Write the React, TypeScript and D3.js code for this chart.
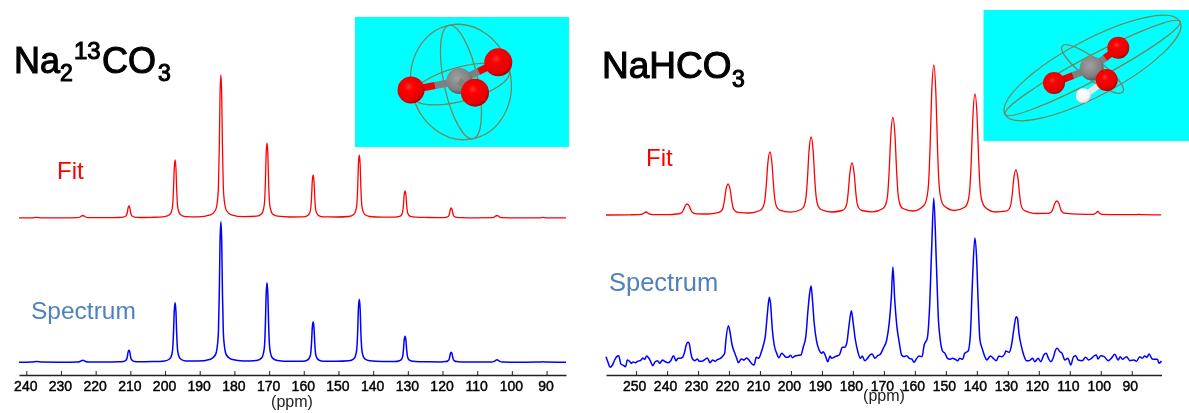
import React, { useEffect, useRef } from "react";
import * as d3 from "d3";

const FONT = "'Liberation Sans', Arial, sans-serif";

// ---------- Na2 13CO3 panel ----------
const carbonateTicks = d3.range(240, 80, -10);
const carbonatePpm = [
  242.1, 238.5, 237, 235.5, 230.4,
  225.2, 224.5, 223.7, 222.9, 222.2, 217,
  213.4, 212, 211.4, 211.1, 210.85, 210.65, 210.4, 210.15, 209.95, 209.7, 209.4, 208.8, 207.4, 203.75,
  200.1, 198.7, 198.1, 197.8, 197.55, 197.35, 197.1, 196.85, 196.65, 196.4, 196.1, 195.5, 194.1, 190.5,
  186.9, 185.5, 184.9, 184.6, 184.35, 184.15, 183.9, 183.65, 183.45, 183.2, 182.9, 182.3, 180.9, 177.25,
  173.6, 172.2, 171.6, 171.3, 171.05, 170.85, 170.6, 170.35, 170.15, 169.9, 169.6, 169, 167.6, 163.95,
  160.3, 158.9, 158.3, 158, 157.75, 157.55, 157.3, 157.05, 156.85, 156.6, 156.3, 155.7, 154.3, 150.65,
  147, 145.6, 145, 144.7, 144.45, 144.25, 144, 143.75, 143.55, 143.3, 143, 142.4, 141, 137.4,
  133.8, 132.4, 131.8, 131.5, 131.25, 131.05, 130.8, 130.55, 130.35, 130.1, 129.8, 129.2, 127.8, 124.15,
  120.5, 119.1, 118.5, 118.2, 117.95, 117.75, 117.5, 117.25, 117.05, 116.8, 116.5, 115.9, 114.5, 110.9,
  105.8, 105.1, 104.3, 103.5, 102.8, 97.6,
  92, 91, 90, 84.4,
];
const carbonateFit = [
  0.1, 0.2, 0.7, 0.2, 0.1,
  0.4, 1, 2.5, 1, 0.4, 0.3,
  0.5, 0.9, 1.7, 2.9, 6, 10.2, 12, 10.2, 6, 2.9, 1.7, 0.9, 0.5, 0.7,
  1.4, 3.2, 7, 12.8, 29, 49.3, 58, 49.3, 29, 12.8, 7, 3.2, 1.4, 1.2,
  3.2, 7.5, 17, 31.5, 71.5, 121.5, 143, 121.5, 71.5, 31.5, 17, 7.5, 3.2, 1.3,
  1.8, 4, 9, 16.5, 37.5, 63.8, 75, 63.8, 37.5, 16.5, 9, 4, 1.8, 1,
  1.1, 2.4, 5.2, 9.5, 21.5, 36.6, 43, 36.6, 21.5, 9.5, 5.2, 2.4, 1.1, 1,
  1.5, 3.4, 7.6, 13.9, 31.5, 53.6, 63, 53.6, 31.5, 13.9, 7.6, 3.4, 1.5, 0.8,
  0.8, 1.6, 3.2, 5.9, 13.5, 23, 27, 23, 13.5, 5.9, 3.2, 1.6, 0.8, 0.5,
  0.4, 0.7, 1.3, 2.3, 5, 8.5, 10, 8.5, 5, 2.3, 1.3, 0.7, 0.4, 0.2,
  0.3, 0.9, 2.5, 0.9, 0.3, 0.1,
  0.2, 0.7, 0.2, 0.1,
];
const carbonateSpectrum = [
  0.1, 0.2, 0.7, 0.2, 0.1,
  0.3, 0.8, 2, 0.8, 0.3, 0.3,
  0.5, 0.9, 1.7, 2.9, 6, 10.2, 12, 10.2, 6, 2.9, 1.7, 0.9, 0.5, 0.7,
  1.4, 3.3, 7.1, 13.1, 29.8, 50.6, 59.5, 50.6, 29.8, 13.1, 7.1, 3.3, 1.4, 1.2,
  3.1, 7.3, 16.9, 30.9, 70.3, 119.4, 140.5, 119.4, 70.3, 30.9, 16.9, 7.3, 3.1, 1.3,
  1.9, 4.2, 9.5, 17.5, 39.8, 67.6, 79.5, 67.6, 39.8, 17.5, 9.5, 4.2, 1.9, 1,
  1, 2.3, 4.9, 8.9, 20.3, 34.4, 40.5, 34.4, 20.3, 8.9, 4.9, 2.3, 1, 1,
  1.5, 3.4, 7.6, 13.9, 31.5, 53.6, 63, 53.6, 31.5, 13.9, 7.6, 3.4, 1.5, 0.8,
  0.8, 1.6, 3.1, 5.7, 13, 22.1, 26, 22.1, 13, 5.7, 3.1, 1.6, 0.8, 0.5,
  0.4, 0.7, 1.3, 2.3, 5, 8.5, 10, 8.5, 5, 2.3, 1.3, 0.7, 0.4, 0.2,
  0.3, 0.9, 2.5, 0.9, 0.3, 0.1,
  0.2, 0.6, 0.2, 0.1,
];

// ---------- NaHCO3 panel ----------
const bicarbonateTicks = d3.range(250, 80, -10);
const bicarbonateFit: [number, number][] = [
  [259.7, 0], [252, 0.2], [249, 0.4], [247.8, 1.2], [246.8, 3], [245.8, 1.2], [244.5, 0.4], [240, 0.3],
  [236.7, 1], [235.7, 1.7], [235.1, 2.9], [234.7, 5], [234.2, 8.8], [233.5, 11], [232.8, 8.8], [232.3, 5], [231.9, 2.9], [231.3, 1.7], [230.3, 1.2], [226.9, 1],
  [223.5, 2.4], [222.5, 4], [221.9, 7.5], [221.5, 14], [221, 25], [220.3, 31], [219.6, 25], [219.1, 14], [218.7, 7.5], [218.1, 4.2], [217.1, 2.6], [213.5, 2],
  [210, 4.5], [209, 8], [208.4, 15.5], [208, 28.5], [207.5, 50.5], [206.8, 63], [206.1, 50.5], [205.6, 28.5], [205.2, 15.5], [204.6, 8], [203.6, 4.8], [200.2, 2.8],
  [196.7, 5.5], [195.7, 9.5], [195.1, 19], [194.7, 35], [194.2, 62.5], [193.5, 78], [192.8, 62.5], [192.3, 35], [191.9, 19], [191.3, 9.5], [190.3, 5.5], [186.9, 3],
  [183.5, 4.5], [182.5, 7], [181.9, 12.5], [181.5, 23.5], [181, 41.5], [180.3, 52], [179.6, 41.5], [179.1, 23.5], [178.7, 12.5], [178.1, 7], [177.1, 4.5], [173.7, 3.2],
  [170.3, 6.5], [169.3, 11.5], [168.7, 23.5], [168.3, 44], [167.8, 78], [167.1, 97.5], [166.4, 78], [165.9, 44], [165.5, 23.5], [164.9, 11.5], [163.9, 6.5], [160.5, 4],
  [157.1, 9.5], [156.1, 18], [155.5, 36], [155.1, 67.5], [154.6, 120], [153.9, 150], [153.2, 120], [152.7, 67.5], [152.3, 36], [151.7, 18], [150.7, 9.5], [147.25, 4.5],
  [143.8, 8], [142.8, 14.5], [142.2, 29], [141.8, 54.5], [141.3, 97], [140.6, 121], [139.9, 97], [139.4, 54.5], [139, 29], [138.4, 14.5], [137.4, 8], [134, 3],
  [130.6, 3.8], [129.6, 6], [129, 11], [128.6, 20], [128.1, 36], [127.4, 45], [126.7, 36], [126.2, 20], [125.8, 11], [125.2, 6], [124.2, 3.8], [120.8, 1.5],
  [117.4, 1.6], [116.4, 2.2], [115.8, 3.6], [115.4, 6.5], [114.9, 11.2], [114.2, 14], [113.5, 11.2], [113, 6.5], [112.6, 3.6], [112, 2.2], [111, 1.6], [107.6, 0.8],
  [102.6, 0.7], [101.6, 1.8], [101, 3.5], [100.4, 1.8], [99.4, 0.6], [94, 0.3], [88.7, 0.3], [87.7, 0.7], [86.7, 0.3], [80.5, 0.1],
];
const bicarbonateSpectrum: [number, number][] = [
  [259.7, 3.3], [259, -2.7], [258.4, -7.3], [257.6, -5], [256.9, 0], [256, 4], [255.6, 4.3], [254.9, -4], [254.1, -5.3], [253.4, -6.7],
  [252.8, 0], [252.1, -1.3], [251.6, -3.3], [250.9, -2], [250.2, -2.7], [249.5, -1.3], [248.5, -0.3], [247.8, 2], [247.2, 0.7], [246.6, 4],
  [245.9, 2], [245.3, -1.3], [244.6, -5.7], [243.9, -2], [243.1, -0.7], [242.3, -3.3], [241.5, 0], [240.6, -1.7], [239.6, -2.7], [238.8, -0.7],
  [237.9, 4.3], [237.1, -0.7], [236.4, 1.7], [235.8, 1.7], [235, 2.7], [234.3, 8.3], [233.8, 15], [233.2, 17.7], [232.8, 16], [232.3, 6.7],
  [231.7, 0.7], [231, -0.7], [230.2, 1], [229.6, -1.3], [228.8, -1.3], [227.7, 0.7], [227, 2], [226.1, -2.7], [225.3, 0], [224.5, -1.3],
  [223.8, 0.3], [222.9, 1.3], [222, 4], [221.4, 6.7], [221, 20], [220.2, 34.3], [219.7, 28.3], [219, 15], [218.3, 8.3], [217.5, 1.7],
  [217, -2.7], [216, 1], [215.2, 0], [214.3, 2], [213.4, -0.7], [212.6, -4], [211.9, -5], [211.2, 2.7], [210.4, 1.7], [209.7, 6.7],
  [208.9, 15], [208.3, 23.3], [207.6, 46.7], [207, 62.7], [206.6, 56.7], [206, 30], [205.4, 15], [204.6, 6.7], [203.9, 2.3], [203, 6.7],
  [202.3, 5], [201.6, 2.7], [200.9, 2.7], [200.1, 4.7], [199.5, 2.3], [198.7, 4], [197.6, 4.7], [196.8, 5], [196, 13.3], [195.2, 23.3],
  [194.5, 50], [193.9, 68.3], [193.5, 74], [193.1, 61.7], [192.5, 36.7], [191.7, 18.3], [190.9, 10], [190.1, 6.7], [189.6, 8.3], [188.9, 4.3],
  [188.1, -1.7], [187.4, 4], [186.9, 1.7], [186.1, 2.7], [185.3, 4], [184.4, 5], [183.4, 12.7], [182.7, 12.7], [182, 16.7], [181.3, 33.3],
  [180.5, 49.3], [179.9, 36.7], [179.2, 20], [178.4, 8.3], [177.6, 1.7], [177, 4], [176.2, -0.7], [175.4, 1.3], [174.5, 5], [173.8, 6],
  [172.9, 1.7], [172, 4.3], [171.1, 6], [170.2, 11.7], [169.1, 20], [168.3, 36.7], [167.6, 63], [167.1, 93], [166.5, 60], [165.8, 33.3],
  [165, 16.7], [164.3, 5], [163.5, 3.3], [162.7, 4.3], [161.8, 1.7], [161, 1], [160.3, -2.3], [159.4, 1.7], [158.6, 4], [157.7, 3.3],
  [157, 15], [156, 21.7], [155.3, 50], [154.6, 110], [153.9, 162], [153.1, 100], [152.4, 40], [151.8, 20], [151.1, 9], [150.3, 6.7],
  [149.5, 1.7], [148.7, 0.7], [147.9, 1.7], [147, 0.7], [146.2, -0.7], [145.5, 1.7], [144.6, 0.7], [143.9, 6.7], [142.8, 9], [142.1, 25],
  [141.4, 80], [140.65, 122], [140.1, 103], [139.6, 60], [139, 20], [138.3, 11.7], [137.4, 3.3], [136.8, 0], [135.6, 4], [134.7, 1.7],
  [133.7, -0.7], [132.9, 4], [132, 3.3], [131, 6], [130.7, 9], [129.6, 7.7], [128.8, 15], [128.1, 30], [127.3, 43.3], [126.9, 41.7],
  [126.4, 26.7], [125.6, 13.3], [124.8, 4.3], [124, -0.7], [123.1, -0.7], [122, 1.7], [121.3, -1.7], [120.2, 1.7], [119.4, -1.7], [118.4, 5],
  [117.6, 6.7], [116.9, 1.7], [116.1, -1.7], [115.4, 1.7], [114.6, 10], [114.1, 11.7], [113.2, 8.3], [112.5, 6.7], [111.6, 0], [110.6, 1.7],
  [109.7, -5], [108.8, 3.3], [108.1, 4.3], [107.3, 0], [106, -0.7], [104.9, 2.7], [103.9, 0], [103, 1.7], [102.2, 4], [101.4, 5],
  [100.9, 1], [100, 4.3], [98.9, 3.3], [97.6, -0.7], [96.6, 1.7], [95.5, 5.7], [94.4, 0], [93.7, 3.3], [93, 0.7], [91.7, 3.3],
  [90.6, -0.7], [89.3, 0], [88.5, -1.3], [87.4, 3.3], [86.6, 1.7], [85.8, 4], [85.1, 2.7], [84.4, 6], [83.4, 1], [82.6, 0.7],
  [81.7, 0.7], [81.2, -3.3], [80.4, -1],
];

// ---------- scales ----------
const xLeft = d3.scaleLinear().domain([242.1, 84.4]).range([19, 566]);
const xRight = d3.scaleLinear().domain([259.7, 80.4]).range([606, 1161.5]);
const yOf = (base: number) => d3.scaleLinear().domain([0, 100]).range([base, base - 100]);

const lineOf = (x: d3.ScaleLinear<number, number>, y: d3.ScaleLinear<number, number>) =>
  d3.line<[number, number]>().x((d) => x(d[0])).y((d) => y(d[1])).curve(d3.curveMonotoneX);

const zip = (a: number[], b: number[]) => a.map((v, i) => [v, b[i]] as [number, number]);

function Axis({ scale, ticks, y, dx }: { scale: d3.ScaleLinear<number, number>; ticks: number[]; y: number; dx: number }) {
  const ref = useRef<SVGGElement>(null);
  useEffect(() => {
    const g = d3.select(ref.current!);
    g.call(
      d3.axisBottom(scale).tickValues(ticks).tickSizeInner(-4).tickSizeOuter(0).tickPadding(6).tickFormat(d3.format("d")) as any
    );
    g.select(".domain").attr("stroke", "#222").attr("stroke-width", 1.6);
    g.selectAll(".tick line").attr("stroke", "#333").attr("stroke-width", 1.1);
    g.selectAll(".tick text")
      .attr("dx", dx)
      .attr("fill", "#000")
      .attr("stroke", "#000")
      .attr("stroke-width", 0.45)
      .style("font-family", FONT)
      .style("font-size", "14px");
  }, []);
  return <g ref={ref} transform={`translate(0,${y})`} />;
}

function Sphere({ cx, cy, r, fill }: { cx: number; cy: number; r: number; fill: string }) {
  return <circle cx={cx} cy={cy} r={r} fill={`url(#${fill})`} />;
}

function Wire({ cx, cy, rx, ry, angle }: { cx: number; cy: number; rx: number; ry: number; angle: number }) {
  return (
    <ellipse
      cx={cx}
      cy={cy}
      rx={rx}
      ry={ry}
      transform={`rotate(${angle} ${cx} ${cy})`}
      fill="none"
      stroke="#76865a"
      strokeWidth={1.3}
    />
  );
}

function Bond({ x1, y1, x2, y2 }: { x1: number; y1: number; x2: number; y2: number }) {
  const mx = (x1 + x2) / 2;
  const my = (y1 + y2) / 2;
  return (
    <g strokeWidth={7}>
      <line x1={x1} y1={y1} x2={mx} y2={my} stroke="#808080" />
      <line x1={mx} y1={my} x2={x2} y2={y2} stroke="#ee0000" />
    </g>
  );
}

export default function App() {
  const fitL = lineOf(xLeft, yOf(218))(zip(carbonatePpm, carbonateFit))!;
  const specL = lineOf(xLeft, yOf(362.3))(zip(carbonatePpm, carbonateSpectrum))!;
  const fitR = lineOf(xRight, yOf(215))(bicarbonateFit)!;
  const specR = lineOf(xRight, yOf(360))(bicarbonateSpectrum)!;

  return (
    <svg
      width={1189}
      height={413}
      style={{ position: "absolute", left: 0, top: 0, display: "block", background: "#fff" }}
      fontFamily={FONT}
    >
      <defs>
        <filter id="soft" filterUnits="userSpaceOnUse" x="0" y="0" width="1189" height="413">
          <feGaussianBlur stdDeviation="0.65" />
        </filter>
        <radialGradient id="red" cx="0.42" cy="0.38" r="0.65">
          <stop offset="0" stopColor="#ff3030" />
          <stop offset="0.25" stopColor="#ff0000" />
          <stop offset="0.8" stopColor="#e60000" />
          <stop offset="1" stopColor="#990000" />
        </radialGradient>
        <radialGradient id="grey" cx="0.42" cy="0.38" r="0.65">
          <stop offset="0" stopColor="#a0a0a0" />
          <stop offset="0.7" stopColor="#808080" />
          <stop offset="1" stopColor="#555" />
        </radialGradient>
        <radialGradient id="white" cx="0.42" cy="0.38" r="0.65">
          <stop offset="0" stopColor="#ffffff" />
          <stop offset="0.75" stopColor="#f4f4f4" />
          <stop offset="1" stopColor="#b8b8b8" />
        </radialGradient>
      </defs>

      <g filter="url(#soft)">
        {/* left molecule */}
        <rect x={355} y={17} width={214} height={130} fill="#00ffff" />
        <Wire cx={461} cy={82} rx={50} ry={58} angle={-12} />
        <Wire cx={461} cy={82} rx={17} ry={58} angle={-12} />
        <Wire cx={461} cy={84} rx={50} ry={17} angle={-15} />
        <Bond x1={459} y1={81} x2={411} y2={90} />
        <Bond x1={459} y1={81} x2={498} y2={62} />
        <Sphere cx={411} cy={90} r={13.5} fill="red" />
        <Sphere cx={498.3} cy={62.3} r={14} fill="red" />
        <Sphere cx={459.3} cy={81} r={13} fill="grey" />
        <Bond x1={459} y1={81} x2={475} y2={93} />
        <Sphere cx={475} cy={92.7} r={14} fill="red" />

        {/* right molecule */}
        <rect x={983.5} y={10} width={205.5} height={131} fill="#00ffff" />
        <Wire cx={1092.5} cy={68} rx={99} ry={28} angle={-28} />
        <Wire cx={1092.5} cy={68} rx={99} ry={12} angle={-28} />
        <Wire cx={1092.5} cy={69} rx={38} ry={10} angle={37} />
        <Bond x1={1092} y1={68} x2={1118} y2={48} />
        <Bond x1={1092} y1={68} x2={1054} y2={83} />
        <Sphere cx={1118.3} cy={47.7} r={11} fill="red" />
        <Sphere cx={1054} cy={83} r={11} fill="red" />
        <Sphere cx={1091.7} cy={68.3} r={12} fill="grey" />
        <line x1={1106} y1={80} x2={1084} y2={96} stroke="#e8e8e8" strokeWidth={6} />
        <Sphere cx={1106.7} cy={80} r={11} fill="red" />
        <Sphere cx={1083.3} cy={95.7} r={7.5} fill="white" />

        {/* spectra */}
        <path d={fitL} fill="none" stroke="#ff0000" strokeWidth={1.3} />
        <path d={specL} fill="none" stroke="#0000ff" strokeWidth={1.5} />
        <path d={fitR} fill="none" stroke="#ff0000" strokeWidth={1.3} />
        <path d={specR} fill="none" stroke="#0000ff" strokeWidth={1.5} />

        {/* axes */}
        <Axis scale={xLeft} ticks={carbonateTicks} y={375} dx={-1} />
        <Axis scale={xRight} ticks={bicarbonateTicks} y={375} dx={-2} />
        <text x={292} y={407} textAnchor="middle" fontSize={16} fill="#222">(ppm)</text>
        <text x={884} y={401} textAnchor="middle" fontSize={16} fill="#222">(ppm)</text>

        {/* titles */}
        <g fill="#000" stroke="#000" strokeWidth={1.1}>
          <text x={14} y={73} fontSize={36}>Na</text>
          <text x={60} y={81} fontSize={23}>2</text>
          <text x={74} y={59} fontSize={24}>13</text>
          <text x={102} y={73} fontSize={36}>CO</text>
          <text x={158} y={81} fontSize={23}>3</text>
          <text x={602} y={78} fontSize={37}>NaHCO</text>
          <text x={732} y={87} fontSize={23}>3</text>
        </g>

        {/* labels */}
        <text x={57} y={179} fontSize={24} fill="#ff0000">Fit</text>
        <text x={646} y={166} fontSize={24} fill="#ff0000">Fit</text>
        <text x={31} y={319} fontSize={24.5} fill="#4f81bd">Spectrum</text>
        <text x={609} y={291} fontSize={25.5} fill="#4f81bd">Spectrum</text>
      </g>
    </svg>
  );
}
